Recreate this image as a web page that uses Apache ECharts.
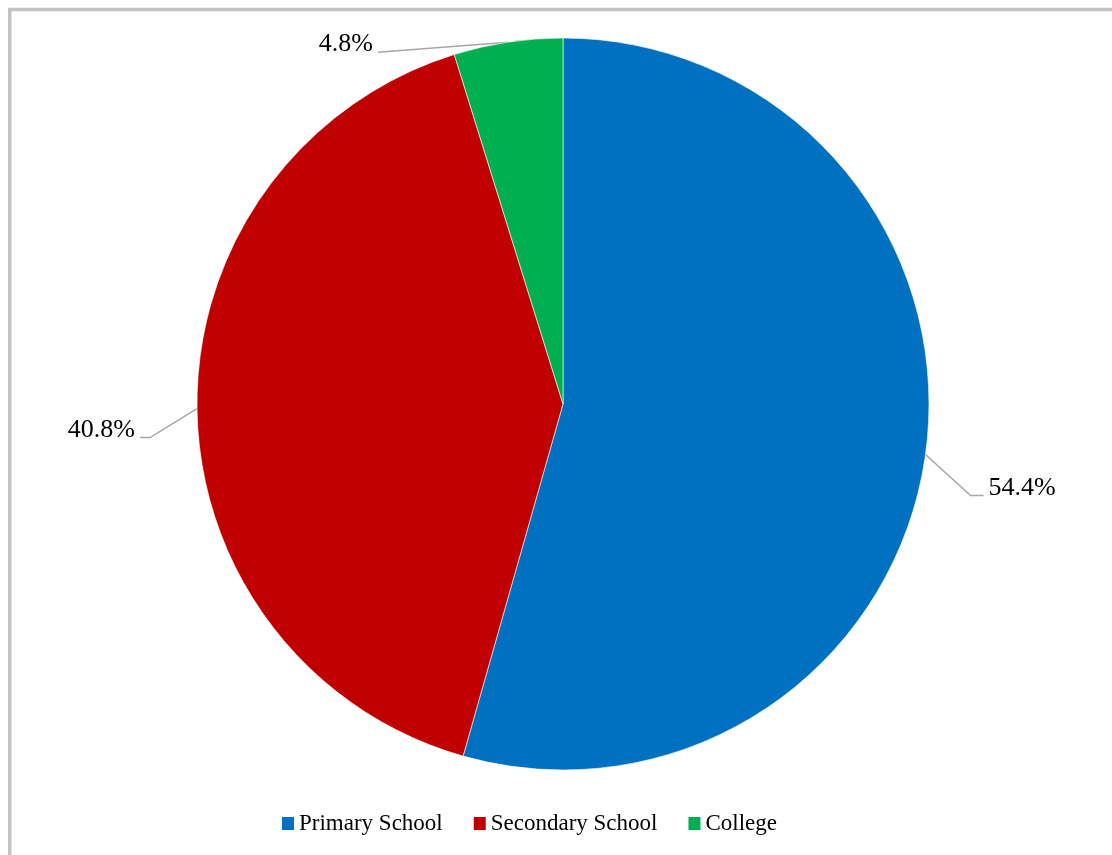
<!DOCTYPE html>
<html>
<head>
<meta charset="utf-8">
<title>Education level</title>
<script src="https://cdn.jsdelivr.net/npm/echarts@6/dist/echarts.min.js"></script>
<style>
  html, body { margin: 0; padding: 0; background: #ffffff; }
  #chart { width: 1112px; height: 855px; }
</style>
</head>
<body>
<div id="chart"></div>
<script>
// Share of respondents by education level (percent)
const categories = ['Primary School', 'Secondary School', 'College'];
const shares = [54.4, 40.8, 4.8];
const sliceColors = ['#0070C0', '#C00000', '#00B050'];

// Leader line shape per slice: bend offset from the slice's rim point,
// horizontal tail length, and the gap before the text.
const leaderBend = [[45, 41], [-47, 29], [-130, 10]];
const leaderTail = [13, -10, 0];
const textGap = 5;

const chart = echarts.init(document.getElementById('chart'), null, { renderer: 'canvas' });

chart.setOption({
  animation: false,
  backgroundColor: '#ffffff',
  textStyle: { fontFamily: '"Liberation Serif", "Times New Roman", serif' },
  graphic: [{
    type: 'rect',
    silent: true,
    shape: { x: 9.75, y: 9.5, width: 1300, height: 1000 },
    style: { fill: 'none', stroke: '#c3c3c3', lineWidth: 3.5 }
  }],
  legend: {
    left: 282,
    top: 812,
    padding: 0,
    icon: 'rect',
    itemWidth: 12,
    itemHeight: 13,
    itemGap: 31,
    itemStyle: { borderWidth: 0 },
    textStyle: {
      fontFamily: '"Liberation Serif", "Times New Roman", serif',
      fontSize: 23,
      color: '#000000'
    },
    data: categories
  },
  series: [{
    type: 'pie',
    center: [563, 404],
    radius: 366,
    startAngle: 90,
    clockwise: true,
    avoidLabelOverlap: false,
    itemStyle: { borderColor: '#ffffff', borderWidth: 0.6 },
    emphasis: { disabled: true },
    label: {
      show: true,
      position: 'outside',
      fontFamily: '"Liberation Serif", "Times New Roman", serif',
      fontSize: 26,
      color: '#000000',
      formatter: (p) => p.value.toFixed(1) + '%'
    },
    labelLine: {
      show: true,
      length: 20,
      length2: 10,
      lineStyle: { color: '#a6a6a6', width: 1.5 }
    },
    labelLayout: (params) => {
      const i = params.dataIndex;
      const rim = params.labelLinePoints[0];
      const bend = [rim[0] + leaderBend[i][0], rim[1] + leaderBend[i][1]];
      const tail = [bend[0] + leaderTail[i], bend[1]];
      const toRight = (leaderTail[i] !== 0 ? leaderTail[i] : leaderBend[i][0]) > 0;
      return {
        x: tail[0] + (toRight ? textGap : -textGap),
        y: tail[1] - 7.5,
        align: toRight ? 'left' : 'right',
        verticalAlign: 'middle',
        labelLinePoints: [rim, bend, tail]
      };
    },
    data: categories.map((name, i) => ({
      name: name,
      value: shares[i],
      itemStyle: { color: sliceColors[i] }
    }))
  }]
});
</script>
</body>
</html>
